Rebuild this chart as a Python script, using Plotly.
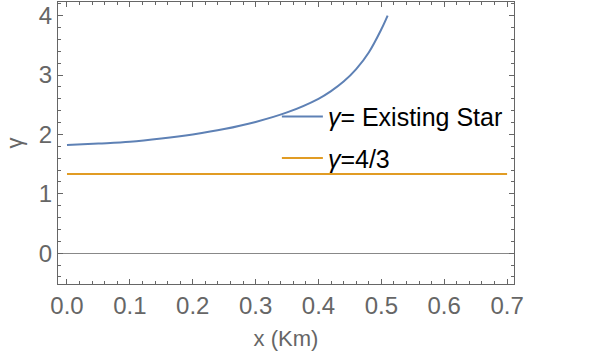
import plotly.graph_objects as go

# gamma for the existing star
x_star = [0, 0.05, 0.1, 0.15, 0.2, 0.25, 0.3, 0.35, 0.4, 0.42, 0.44, 0.46, 0.48, 0.5, 0.51]
g_star = [1.82, 1.845, 1.875, 1.93, 2.0, 2.09, 2.21, 2.37, 2.6, 2.73, 2.89, 3.1, 3.38, 3.77, 4.0]

# constant gamma = 4/3
x_rel = [0, 0.7]
g_rel = [4 / 3, 4 / 3]

frame = "#666666"
font = "Liberation Sans, Arial, sans-serif"

fig = go.Figure()
fig.add_trace(go.Scatter(x=x_star, y=g_star, mode="lines", line=dict(color="#5E81B5", width=2, shape="spline"),
                         name="<i>γ</i>= Existing Star", legendgroup="a"))
fig.add_trace(go.Scatter(x=x_rel, y=g_rel, mode="lines", line=dict(color="#E19C24", width=2),
                         name="<i>γ</i>=4/3", legendgroup="b"))

axis_common = dict(showline=True, linecolor=frame, linewidth=1, mirror="ticks", ticks="inside",
                   tickcolor=frame, ticklen=5, showgrid=False,
                   tickfont=dict(size=24, color=frame, family=font))

fig.update_xaxes(range=[-0.0143, 0.711], dtick=0.1, tickformat=".1f", zeroline=False,
                 minor=dict(ticks="inside", dtick=0.02, ticklen=3, tickcolor=frame),
                 title=dict(text="x (Km)", font=dict(size=22, color=frame, family=font), standoff=12),
                 **axis_common)
fig.update_yaxes(range=[-0.52, 4.23], dtick=1, zeroline=True, zerolinecolor="#888888", zerolinewidth=1,
                 minor=dict(ticks="inside", dtick=0.2, ticklen=3, tickcolor=frame),
                 title=dict(text="γ", font=dict(size=22, color=frame, family=font), standoff=10),
                 **axis_common)

fig.update_layout(
    width=601, height=358,
    margin=dict(l=58, r=87, t=2, b=74, autoexpand=False),
    plot_bgcolor="white", paper_bgcolor="white",
    legend=dict(x=0.48, y=0.675, xanchor="left", yanchor="top", bgcolor="rgba(0,0,0,0)",
                font=dict(size=25, color="black", family=font), tracegroupgap=6,
                itemwidth=41, traceorder="grouped"),
)

fig.write_html("out.html", config={"displayModeBar": False},
               post_script="document.body.style.margin='0';")
